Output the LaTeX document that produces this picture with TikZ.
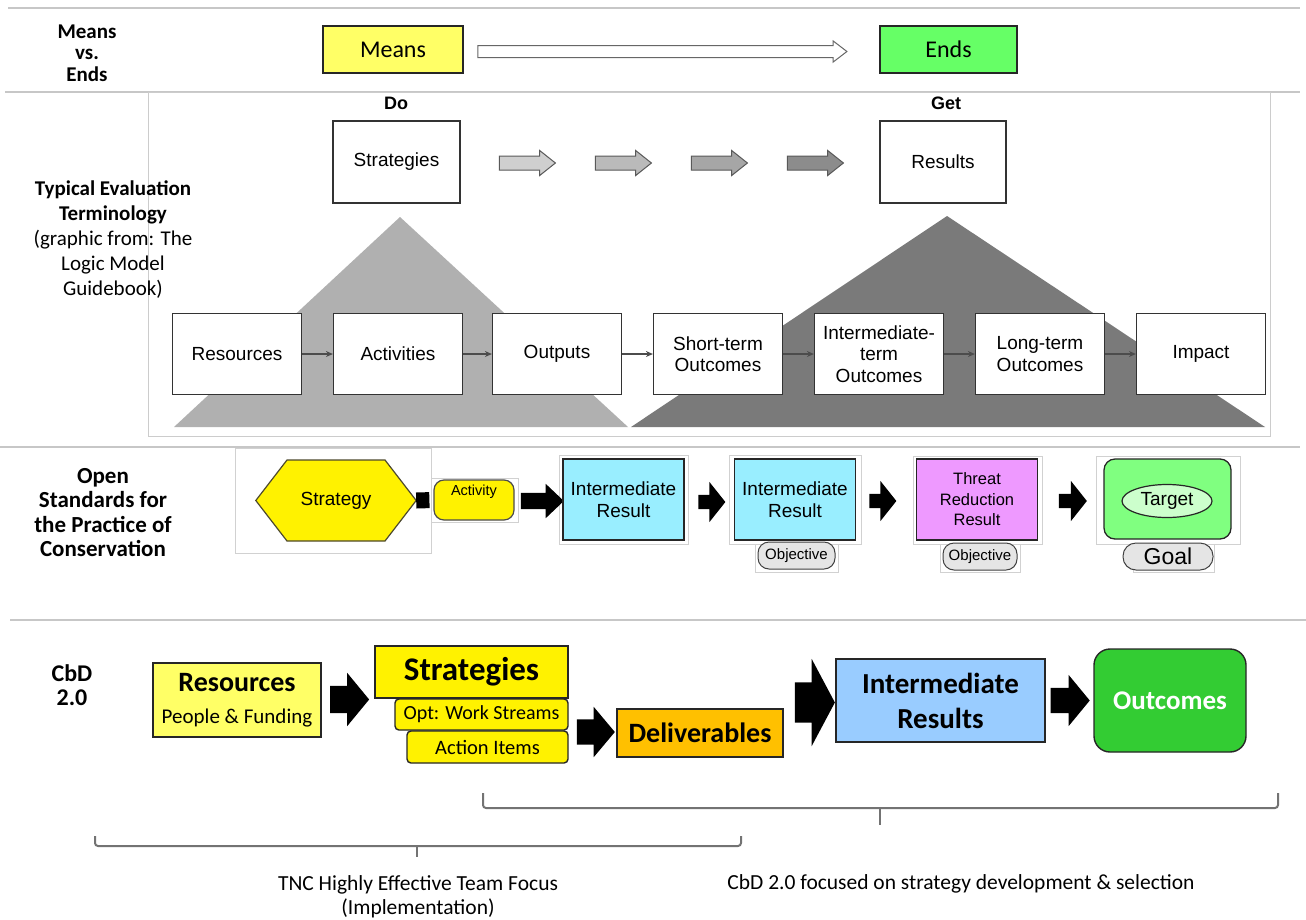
\documentclass[tikz,border=0pt]{standalone}
\usepackage{fontspec}
\setmainfont{Carlito}
\newfontfamily\arialfont{Liberation Sans}
\usetikzlibrary{shapes.geometric,shapes.arrows,arrows.meta}

\newcommand{\fsz}[2]{\fontsize{#1}{#2}\selectfont}

\definecolor{meansyellow}{HTML}{FFFF66}
\definecolor{endsgreen}{HTML}{66FF66}
\definecolor{ircyan}{HTML}{99EEFF}
\definecolor{trrviolet}{HTML}{EE99FF}
\definecolor{goalgreen}{HTML}{80FF80}
\definecolor{targetgreen}{HTML}{CCFFCC}
\definecolor{delorange}{HTML}{FFC000}
\definecolor{irblue}{HTML}{99CCFF}
\definecolor{outgreen}{HTML}{33CC33}

\begin{document}
\begin{tikzpicture}[x=1pt, y=-1pt, every node/.style={font=\fsz{21.5}{24}},
	sepline/.style={draw=black!22, line width=2pt},
	panel/.style={draw=black!18, fill=white, line width=0.8pt},
	sidelabel/.style={align=center, font=\bfseries\fsz{21}{21.5}},
	lmbox/.style={draw=black!80, fill=white, line width=1.2pt, minimum width=129pt, minimum height=81pt, align=center, font=\arialfont\fsz{19}{21.5}},
	lmarrow/.style={-{Stealth[length=7pt,width=6pt]}, draw=black!70, line width=1.1pt},
	greyarrow/.style={single arrow, draw=black!65, line width=1pt, inner xsep=0pt, inner ysep=6.5pt, minimum height=56pt, single arrow head extend=5.5pt, single arrow tip angle=77, single arrow head indent=0pt},
	blockarrow/.style n args={4}{single arrow, fill=black, inner xsep=0pt, inner ysep=#2, single arrow head indent=0pt, minimum height=#1, single arrow head extend=#3, single arrow tip angle=#4},
	osbox/.style={draw=black!85, line width=1.3pt, minimum width=121pt, minimum height=81pt, align=center, font=\arialfont\fsz{19}{22}},
	pill/.style={draw=black!75, fill=black!10, line width=1pt, rounded corners=11pt, minimum width=77pt, minimum height=27pt, inner sep=0pt, font=\arialfont\fsz{15}{17}},
	cbdbox/.style={draw=black!85, line width=1.4pt, align=center, inner sep=0pt, font=\bfseries\fsz{28}{33}},
	brace/.style={draw=black!55, line width=2pt, rounded corners=3pt}]
	\useasboundingbox (0,0) rectangle (1306,919);

	% section lines
	\draw[sepline] (8,8) -- (1300,8);
	\draw[sepline] (5,92) -- (1300,92);
	\draw[sepline] (0,447) -- (1300,447);
	\draw[sepline] (10,620) -- (1306,620);

	% means vs. ends
	\node[sidelabel] (mveLbl) at (87,53) {Means\\vs.\\Ends};
	\node[draw=black!85, fill=meansyellow, line width=1.4pt, minimum width=140pt, minimum height=47pt, font=\fsz{24}{29}] (means) at (393,49.5) {Means};
	\node[draw=black!85, fill=endsgreen, line width=1.4pt, minimum width=137pt, minimum height=47pt, font=\fsz{24}{29}] (ends) at (948.5,49.5) {Ends};
	\node[single arrow, draw=black!60, fill=white, line width=1pt, inner xsep=0pt, inner ysep=5.5pt, minimum height=369pt, single arrow head extend=4.5pt, single arrow tip angle=75, single arrow head indent=0pt] (meArrow) at (658.5,51.5) {};

	% typical evaluation terminology
	\draw[draw=black!20, fill=white, line width=0.8pt] (148,92) rectangle (1270,436);
	\node[align=center, font=\fsz{21}{25}] (evalLbl) at (113,239.5) {\textbf{Typical Evaluation}\\\textbf{Terminology}\\(graphic from: The\\Logic Model\\Guidebook)};
	\fill[black!31] (400,217) -- (628,427) -- (174,427) -- cycle;
	\fill[black!52] (947,216) -- (1265,427) -- (631,427) -- cycle;
	\node[font=\arialfont\bfseries\fsz{18}{20}] (doLbl) at (396,103) {Do};
	\node[font=\arialfont\bfseries\fsz{18}{20}] (getLbl) at (946,103) {Get};
	\node[lmbox, minimum width=127pt, minimum height=82pt] (lmStrat) at (396.5,162) {Strategies};
	\node[lmbox, minimum width=126pt, minimum height=82pt] (lmResults) at (943,162) {Results};
	\node[greyarrow, fill=black!19] (ga1) at (523,163) {};
	\node[greyarrow, fill=black!27] (ga2) at (619,163) {};
	\node[greyarrow, fill=black!35] (ga3) at (715,163) {};
	\node[greyarrow, fill=black!45] (ga4) at (811,163) {};
	\node[lmbox] (lmRes) at (237,354) {Resources};
	\node[lmbox] (lmAct) at (398,354) {Activities};
	\node[lmbox] (lmOut) at (557,354) {Outputs};
	\node[lmbox] (lmShort) at (718,354) {Short-term\\Outcomes};
	\node[lmbox] (lmInter) at (879,354) {Intermediate-\\term\\Outcomes};
	\node[lmbox] (lmLong) at (1040,354) {Long-term\\Outcomes};
	\node[lmbox] (lmImpact) at (1201,354) {Impact};
	\draw[lmarrow] (lmRes) -- (lmAct);
	\draw[lmarrow] (lmAct) -- (lmOut);
	\draw[lmarrow] (lmOut) -- (lmShort);
	\draw[lmarrow] (lmShort) -- (lmInter);
	\draw[lmarrow] (lmInter) -- (lmLong);
	\draw[lmarrow] (lmLong) -- (lmImpact);

	% open standards
	\node[align=center, font=\bfseries\fsz{23}{24.3}] (osLbl) at (103,512.5) {Open\\Standards for\\the Practice of\\Conservation};
	\draw[panel] (235,448) rectangle (431,553);
	\draw[panel] (431,478) rectangle (518,522);
	\draw[panel] (559,455) rectangle (688,544);
	\draw[panel] (729,455) rectangle (861,544);
	\draw[panel] (755,544) rectangle (838,572);
	\draw[panel] (913,456) rectangle (1042,544);
	\draw[panel] (940,544) rectangle (1020,572);
	\draw[panel] (1096,456) rectangle (1240,544);
	\draw[panel] (1133,544) rectangle (1214,572);
	\node[minimum width=160pt, minimum height=81pt] (strategy) at (336,500.5) {};
	\filldraw[fill=yellow, draw=black!60!olive, line width=1.2pt] (strategy.west) -- (287,460) -- (385,460) -- (strategy.east) -- (385,541) -- (287,541) -- cycle;
	\node[font=\arialfont\fsz{19}{22}] at (strategy.center) {Strategy};
	\node[draw=black!70, fill=yellow, line width=1.2pt, rounded corners=10pt, minimum width=80pt, minimum height=40pt, label={[font=\arialfont\fsz{14.5}{16}, anchor=north, yshift=-2pt]north:Activity}] (activity) at (474,500) {};
	\draw[line width=16pt, shorten >=4pt] (strategy.east) -- (activity.west);
	\node[blockarrow={43pt}{8pt}{9pt}{87}] (osArr1) at (538,501) {};
	\node[osbox, fill=ircyan] (ir1) at (623.5,499.5) {Intermediate\\Result};
	\node[blockarrow={27pt}{7pt}{13pt}{103}] (osArr2) at (709,502) {};
	\node[osbox, fill=ircyan] (ir2) at (795,499.5) {Intermediate\\Result};
	\node[pill] (obj1) at (796.5,555.5) {Objective};
	\node[blockarrow={27pt}{7pt}{13pt}{103}] (osArr3) at (880,501) {};
	\node[osbox, fill=trrviolet, font=\arialfont\fsz{16.5}{20.5}] (trr) at (977,499.5) {Threat\\Reduction\\Result};
	\node[pill, minimum width=74pt] (obj2) at (980,556.5) {Objective};
	\node[blockarrow={28pt}{7pt}{13pt}{103}] (osArr4) at (1070,501) {};
	\node[draw=black!85, fill=goalgreen, line width=1.3pt, rounded corners=11pt, minimum width=127pt, minimum height=80pt] (goalBox) at (1167.5,499) {};
	\node[ellipse, draw=black!85, fill=targetgreen, line width=1.2pt, minimum width=90pt, minimum height=33pt, inner sep=0pt, font=\arialfont\fsz{19}{22}] (target) at (1167,501) {Target};
	\node[pill, minimum width=90pt, rounded corners=13pt, font=\arialfont\fsz{23}{26}] (goal) at (1168,556.5) {Goal};

	% cbd 2.0
	\node[align=center, font=\bfseries\fsz{24}{24}] (cbdLbl) at (72,685) {CbD\\2.0};
	\node[cbdbox, fill=meansyellow, minimum width=168pt, minimum height=74pt] (cbdRes) at (237,700) {Resources\\[-1pt]{\mdseries\fsz{21}{25}People \& Funding}};
	\node[blockarrow={39pt}{13.5pt}{13pt}{101}] (cbdArr1) at (344,699.5) {};
	\node[cbdbox, fill=yellow, minimum width=193pt, minimum height=52pt, font=\bfseries\fsz{33}{36}] (cbdStrat) at (471.5,672) {Strategies};
	\node[cbdbox, fill=yellow, rounded corners=4pt, minimum width=173pt, minimum height=31pt, font=\fsz{20}{23}] (cbdOpt) at (481.5,714.5) {Opt: Work Streams};
	\node[cbdbox, fill=yellow, rounded corners=4pt, minimum width=161pt, minimum height=32pt, font=\fsz{20.5}{23}] (cbdAction) at (487.5,747) {Action Items};
	\node[blockarrow={38pt}{12.5pt}{12.5pt}{100}] (cbdArr2) at (590.5,732) {};
	\node[cbdbox, fill=delorange, minimum width=166pt, minimum height=48pt] (cbdDel) at (700,733) {Deliverables};
	\node[blockarrow={40pt}{20pt}{23.5pt}{124}] (cbdArr3) at (809.5,702.5) {};
	\node[cbdbox, fill=irblue, minimum width=209pt, minimum height=83pt, font=\bfseries\fsz{29}{35}] (cbdIR) at (940.5,700.5) {Intermediate\\Results};
	\node[blockarrow={39pt}{12.5pt}{13pt}{101}] (cbdArr4) at (1065,700.5) {};
	\node[cbdbox, fill=outgreen, text=white, rounded corners=16pt, minimum width=152pt, minimum height=103pt, font=\bfseries\fsz{27}{30}] (cbdOutc) at (1170,700.5) {Outcomes};

	% braces
	\draw[brace] (483,793) -- (483,808) -- (1278,808) -- (1278,793);
	\draw[brace] (880,808) -- (880,825);
	\draw[brace] (95,836) -- (95,846) -- (741,846) -- (741,836);
	\draw[brace] (417,846) -- (417,857);
	\node[align=center] (tncLbl) at (418,897) {TNC Highly Effective Team Focus\\(Implementation)};
	\node (cbdFocus) at (961,884) {CbD 2.0 focused on strategy development \& selection};
\end{tikzpicture}
\end{document}
